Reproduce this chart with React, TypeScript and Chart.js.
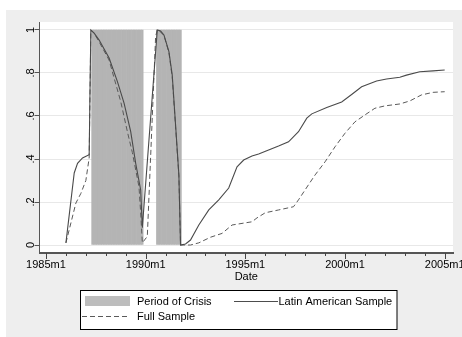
import React, { useEffect, useRef } from "react";
import { Chart, registerables } from "chart.js";

Chart.register(...registerables);

// ---- data (Stata monthly dates) ----
const latamDates = [
  "1986m1", "1986m6", "1986m8", "1986m11", "1987m3", "1987m4", "1987m6", "1987m9",
  "1988m3", "1988m8", "1988m12", "1989m4", "1989m7", "1989m10", "1989m11",
  "1990m8", "1990m10", "1990m12", "1991m3", "1991m5", "1991m7", "1991m9", "1991m10",
  "1992m1", "1992m4", "1992m9", "1993m3", "1993m9", "1994m3", "1994m8", "1994m12",
  "1995m5", "1995m9", "1996m3", "1996m9", "1997m3", "1997m9", "1998m2", "1998m5",
  "1999m2", "1999m11", "2000m5", "2000m11", "2001m8", "2002m2", "2002m10", "2003m2",
  "2003m10", "2004m6", "2005m1",
];
const latamValues = [
  0.01, 0.335, 0.38, 0.405, 0.42, 1.0, 0.985, 0.953,
  0.87, 0.76, 0.66, 0.527, 0.38, 0.256, 0.08,
  1.0, 0.995, 0.977, 0.9, 0.79, 0.56, 0.326, 0.0,
  0.005, 0.023, 0.093, 0.163, 0.21, 0.265, 0.364, 0.395,
  0.414, 0.423, 0.442, 0.46, 0.48, 0.527, 0.59, 0.61,
  0.64, 0.665, 0.7, 0.736, 0.763, 0.772, 0.78, 0.79,
  0.806, 0.81, 0.814,
];

const fullDates = [
  "1986m1", "1986m7", "1986m10", "1987m1", "1987m3", "1987m4", "1987m6", "1987m9",
  "1988m3", "1988m6", "1988m10", "1989m2", "1989m5", "1989m9", "1989m10", "1989m11",
  "1990m2", "1990m7", "1990m8", "1990m10", "1990m12", "1991m3", "1991m5", "1991m7",
  "1991m9", "1991m10", "1992m4", "1992m9", "1993m4", "1993m11", "1994m5", "1995m5",
  "1995m8", "1996m1", "1996m9", "1997m6", "1997m9", "1998m3", "1998m7", "1999m1",
  "1999m7", "2000m1", "2000m7", "2001m1", "2001m7", "2002m1", "2002m10", "2003m4",
  "2003m11", "2004m6", "2005m1",
];
const fullValues = [
  0.01, 0.195, 0.24, 0.3, 0.405, 1.0, 0.985, 0.945,
  0.86, 0.777, 0.667, 0.527, 0.43, 0.27, 0.15, 0.01,
  0.04, 0.97, 1.0, 0.99, 0.975, 0.895, 0.78, 0.55,
  0.32, 0.0, 0.0, 0.01, 0.036, 0.054, 0.093, 0.108,
  0.126, 0.15, 0.163, 0.178, 0.21, 0.28, 0.326, 0.387,
  0.457, 0.52, 0.573, 0.605, 0.636, 0.647, 0.656, 0.67,
  0.698, 0.71, 0.713,
];

const crisisStarts = ["1987m5", "1990m8"];
const crisisEnds = ["1989m11", "1991m10"];

const xTickDates = ["1985m1", "1990m1", "1995m1", "2000m1", "2005m1"];
const xMinorDates = [
  "1985m1", "1986m1", "1987m1", "1988m1", "1989m1", "1990m1", "1991m1", "1992m1",
  "1993m1", "1994m1", "1995m1", "1996m1", "1997m1", "1998m1", "1999m1", "2000m1",
  "2001m1", "2002m1", "2003m1", "2004m1", "2005m1",
];
const yTickValues = [0, 0.2, 0.4, 0.6, 0.8, 1];
const yTickLabels = ["0", ".2", ".4", ".6", ".8", "1"];
const legendLabels = ["Period of Crisis", "Latin American Sample", "Full Sample"];
const xTitle = "Date";

const W = 462;
const H = 337;
const FONT = "'Liberation Sans', Arial, Helvetica, sans-serif";

function tm(s: string): number {
  const [y, m] = s.split("m").map(Number);
  return (y - 1960) * 12 + m - 1;
}

export default function App() {
  const ref = useRef<HTMLCanvasElement | null>(null);

  useEffect(() => {
    const canvas = ref.current;
    if (!canvas) return;

    const latam = latamDates.map((d, i) => ({ x: tm(d), y: latamValues[i] }));
    const full = fullDates.map((d, i) => ({ x: tm(d), y: fullValues[i] }));
    const crisis: { x: number; y: number }[] = [];
    crisisStarts.forEach((s, i) => {
      for (let t = tm(s); t <= tm(crisisEnds[i]); t++) crisis.push({ x: t, y: 1 });
    });
    const majorSet = new Set(xTickDates.map(tm));
    const tickValues = xMinorDates.map(tm);

    const bgPlugin = {
      id: "bg",
      beforeDraw(chart: any) {
        const { ctx, chartArea: ca } = chart;
        ctx.save();
        ctx.fillStyle = "#ffffff";
        ctx.fillRect(0, 0, W, H);
        ctx.fillStyle = "#eeeeee";
        ctx.fillRect(6, 10, W - 6, H - 10);
        ctx.fillStyle = "#ffffff";
        ctx.fillRect(ca.left, ca.top, ca.right - ca.left, ca.bottom - ca.top);
        ctx.restore();
      },
    };

    const decoPlugin = {
      id: "deco",
      afterDraw(chart: any) {
        const { ctx, chartArea: ca, scales } = chart;
        const xs = scales.x;
        const ys = scales.y;
        ctx.save();
        // x ticks
        ctx.strokeStyle = "#444";
        ctx.lineWidth = 1;
        tickValues.forEach((t) => {
          const px = Math.round(xs.getPixelForValue(t)) + 0.5;
          const len = majorSet.has(t) ? 6 : 3;
          ctx.beginPath();
          ctx.moveTo(px, ca.bottom);
          ctx.lineTo(px, ca.bottom + len);
          ctx.stroke();
        });
        // y labels (rotated)
        ctx.fillStyle = "#000";
        ctx.font = `11px ${FONT}`;
        ctx.textAlign = "center";
        ctx.textBaseline = "middle";
        yTickValues.forEach((v, i) => {
          const py = ys.getPixelForValue(v);
          ctx.save();
          ctx.translate(31, py);
          ctx.rotate(-Math.PI / 2);
          ctx.fillText(yTickLabels[i], 0, 0);
          ctx.restore();
        });
        // x title
        ctx.fillText(xTitle, (ca.left + ca.right) / 2, 277);

        // legend box
        ctx.fillStyle = "#ffffff";
        ctx.fillRect(80.5, 290.5, 316.5, 39);
        ctx.strokeStyle = "#000";
        ctx.lineWidth = 1;
        ctx.strokeRect(80.5, 290.5, 316.5, 39);
        // crisis swatch
        ctx.fillStyle = "#bdbdbd";
        ctx.fillRect(85, 296, 45, 10);
        // solid line
        ctx.strokeStyle = "#4d4d4d";
        ctx.beginPath();
        ctx.moveTo(234, 301.5);
        ctx.lineTo(278, 301.5);
        ctx.stroke();
        // dashed line
        ctx.strokeStyle = "#5a5a5a";
        ctx.setLineDash([5, 3]);
        ctx.beginPath();
        ctx.moveTo(82, 316.5);
        ctx.lineTo(129, 316.5);
        ctx.stroke();
        ctx.setLineDash([]);
        // legend text
        ctx.fillStyle = "#000";
        ctx.textAlign = "left";
        ctx.fillText(legendLabels[0], 137, 301.5);
        ctx.fillText(legendLabels[1], 278.5, 301.5);
        ctx.fillText(legendLabels[2], 137, 316.5);
        ctx.restore();
      },
    };

    const chart = new Chart(canvas, {
      type: "line",
      data: {
        datasets: [
          {
            type: "line",
            label: legendLabels[1],
            data: latam,
            borderColor: "#4a4a4a",
            borderWidth: 1.1,
            pointRadius: 0,
            tension: 0,
            order: 0,
          } as any,
          {
            type: "line",
            label: legendLabels[2],
            data: full,
            borderColor: "#5a5a5a",
            borderWidth: 1,
            borderDash: [5, 3],
            pointRadius: 0,
            tension: 0,
            order: 1,
          } as any,
          {
            type: "bar",
            label: legendLabels[0],
            data: crisis,
            backgroundColor: "#b4b4b4",
            borderWidth: 0,
            barPercentage: 1,
            categoryPercentage: 1,
            order: 2,
          } as any,
        ],
      },
      options: {
        animation: false,
        responsive: false,
        maintainAspectRatio: false,
        layout: { padding: { left: 0, top: 22, right: 9, bottom: 0 } },
        plugins: { legend: { display: false }, tooltip: { enabled: false } },
        scales: {
          x: {
            type: "linear",
            offset: false,
            min: 296.1,
            max: 545,
            afterBuildTicks: (s: any) => {
              s.ticks = tickValues.map((v) => ({ value: v }));
            },
            afterFit: (s: any) => {
              s.height = 84;
              s.paddingLeft = 0;
              s.paddingRight = 0;
            },
            ticks: {
              autoSkip: false,
              maxRotation: 0,
              minRotation: 0,
              padding: 5,
              color: "#000",
              font: { family: FONT, size: 11 },
              callback: (v: any) => {
                const t = Number(v);
                if (!majorSet.has(t)) return "";
                return `${1960 + Math.floor(t / 12)}m1`;
              },
            },
            grid: { display: false, drawTicks: false, offset: false },
            border: { display: true, color: "#555", width: 2 },
          },
          y: {
            type: "linear",
            min: -0.0372,
            max: 1.0372,
            afterBuildTicks: (s: any) => {
              s.ticks = yTickValues.map((v) => ({ value: v }));
            },
            afterFit: (s: any) => {
              s.width = 39.5;
              s.paddingTop = 0;
              s.paddingBottom = 0;
            },
            ticks: { display: false },
            grid: {
              color: "#e8e8e8",
              lineWidth: 1,
              drawTicks: true,
              tickLength: 5,
              tickColor: "#555",
            },
            border: { display: true, color: "#555", width: 1 },
          },
        },
      },
      plugins: [bgPlugin, decoPlugin],
    } as any);

    return () => chart.destroy();
  }, []);

  return (
    <div style={{ position: "absolute", left: 0, top: 0, width: W, height: H }}>
      <canvas ref={ref} width={W} height={H} style={{ display: "block", width: W, height: H }} />
    </div>
  );
}
